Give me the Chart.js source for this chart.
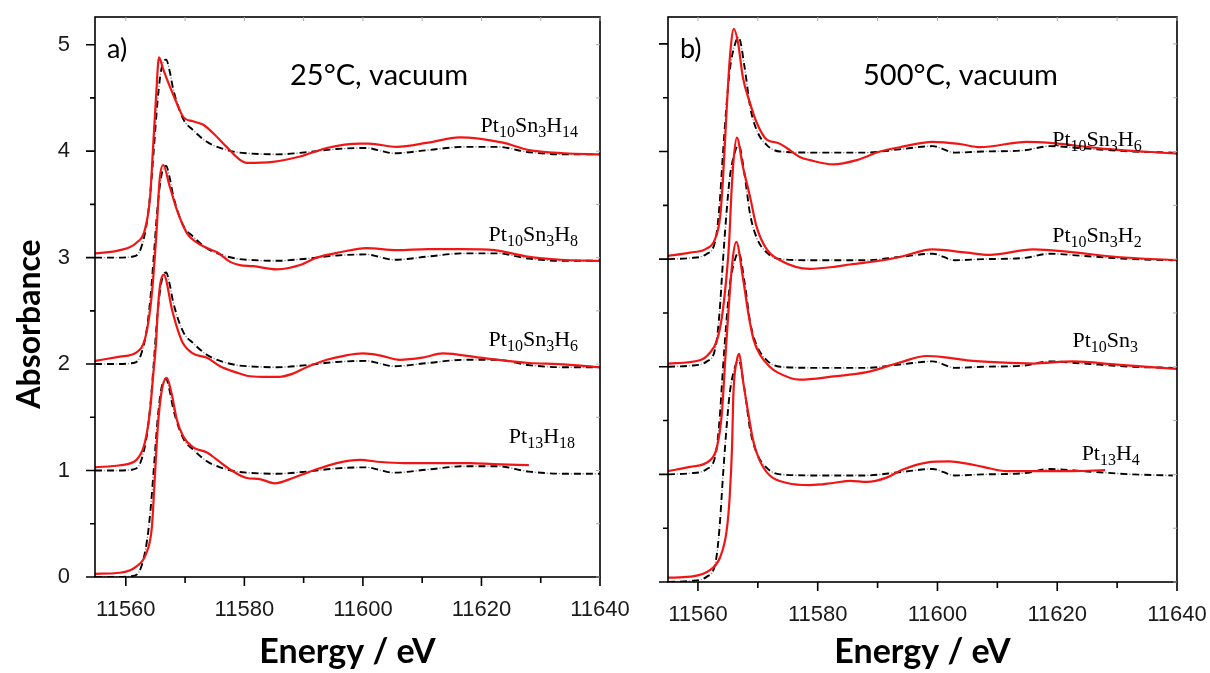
<!DOCTYPE html>
<html>
<head>
<meta charset="utf-8">
<script src="https://cdn.jsdelivr.net/npm/chart.js@4.4.0/dist/chart.umd.min.js"></script>
<style>
  html, body { margin: 0; padding: 0; background: #fff; }
  #wrap { position: relative; width: 1210px; height: 673px; overflow: hidden; }
  canvas { position: absolute; top: 0; }
  #panelA { left: 0; }
  #panelB { left: 640px; }
</style>
</head>
<body>
<div id="wrap">
  <canvas id="panelA" width="640" height="673"></canvas>
  <canvas id="panelB" width="570" height="673"></canvas>
</div>
<script>
// ---- axes / ticks ----
const xMajorTicks = [11560, 11580, 11600, 11620, 11640];
const xMinorTicks = [11570, 11590, 11610, 11630];
const yMajorTicks = [0, 1, 2, 3, 4, 5];
const yMinorTicks = [0.5, 1.5, 2.5, 3.5, 4.5];

// ---- panel a) 25°C, vacuum ----
// experimental spectrum (black dash-dot), drawn once per offset
const expA_E = [11554.8, 11558, 11561.2, 11562.5, 11563.6, 11564.2, 11564.7, 11565.4, 11566, 11566.8, 11567.4, 11568, 11569.7, 11571.3, 11573.6, 11575.9, 11578.7, 11580.4, 11585.5, 11590.5, 11595.6, 11600.6, 11602.5, 11605.2, 11611, 11617, 11622.7, 11628, 11634, 11640];
const expA_mu = [0.0, 0.0, 0.01, 0.08, 0.35, 0.65, 1.0, 1.5, 1.77, 1.86, 1.75, 1.58, 1.3, 1.2, 1.09, 1.03, 0.99, 0.98, 0.97, 0.99, 1.02, 1.03, 1.01, 0.98, 1.01, 1.04, 1.04, 0.99, 0.97, 0.97];
const offsetsA = [0, 1, 2, 3];

// calculated spectra (red), absolute values as plotted
const pt13h18_E = [11554.8, 11559, 11561.8, 11563.5, 11564.4, 11564.9, 11565.4, 11566, 11566.9, 11567.7, 11568.6, 11569.7, 11571.3, 11573.7, 11575.4, 11577.6, 11580.4, 11582.6, 11585.1, 11588.2, 11591.6, 11595.6, 11599.5, 11603, 11607, 11612, 11618, 11622, 11628];
const pt13h18_mu = [0.03, 0.04, 0.1, 0.23, 0.47, 0.94, 1.41, 1.73, 1.87, 1.73, 1.48, 1.32, 1.22, 1.17, 1.1, 1.01, 0.93, 0.92, 0.88, 0.93, 1.0, 1.07, 1.10, 1.08, 1.07, 1.07, 1.07, 1.06, 1.05];

const pt10sn3h6a_E = [11554.8, 11559, 11561.8, 11563.2, 11564.1, 11564.6, 11565.1, 11565.4, 11565.8, 11566.4, 11567.8, 11568.6, 11569.6, 11571.3, 11573.7, 11575.9, 11578.7, 11580.4, 11583, 11585.9, 11588.2, 11590.5, 11593.9, 11597, 11600, 11603, 11606.2, 11610, 11613.5, 11619.7, 11628, 11633, 11640];
const pt10sn3h6a_mu = [1.03, 1.05, 1.1, 1.26, 1.57, 1.88, 2.2, 2.51, 2.75, 2.84, 2.51, 2.35, 2.2, 2.1, 2.06, 1.98, 1.92, 1.89, 1.88, 1.88, 1.91, 1.97, 2.04, 2.08, 2.10, 2.08, 2.04, 2.06, 2.10, 2.06, 2.01, 2.0, 1.97];

const pt10sn3h8_E = [11554.8, 11559, 11561.8, 11563.2, 11564.1, 11564.6, 11565.2, 11565.7, 11566.3, 11567.4, 11568.6, 11570.3, 11572, 11573.7, 11575.4, 11577.6, 11579.2, 11581.5, 11585.5, 11589.4, 11592.2, 11596.1, 11600.6, 11605.7, 11611, 11616.6, 11622.2, 11627.8, 11633.4, 11640];
const pt10sn3h8_mu = [2.03, 2.07, 2.11, 2.23, 2.51, 2.79, 3.26, 3.73, 3.87, 3.67, 3.45, 3.23, 3.14, 3.09, 3.05, 2.96, 2.93, 2.92, 2.89, 2.93, 3.0, 3.05, 3.09, 3.07, 3.08, 3.08, 3.07, 3.01, 2.98, 2.97];

const pt10sn3h14_E = [11554.8, 11559, 11561.8, 11563.2, 11564.1, 11564.6, 11565.1, 11565.6, 11566.3, 11567.4, 11568.6, 11569.7, 11571.3, 11573, 11574.7, 11577, 11579.2, 11580.4, 11584.8, 11589.4, 11593.9, 11599.5, 11601, 11605.7, 11611, 11616.3, 11623.6, 11628, 11634, 11640];
const pt10sn3h14_mu = [3.04, 3.07, 3.14, 3.26, 3.57, 4.04, 4.51, 4.88, 4.77, 4.61, 4.45, 4.32, 4.28, 4.25, 4.17, 4.04, 3.92, 3.89, 3.9, 3.95, 4.03, 4.07, 4.07, 4.04, 4.08, 4.13, 4.08, 4.01, 3.98, 3.97];

const labelsA = ['Pt{10}Sn{3}H{14}', 'Pt{10}Sn{3}H{8}', 'Pt{10}Sn{3}H{6}', 'Pt{13}H{18}'];
const labelsA_E = [11636.3, 11636.3, 11636.3, 11635.8];
const labelsA_mu = [4.18, 3.16, 2.17, 1.26];

// ---- panel b) 500°C, vacuum ----
const expB_E = [11555, 11558.7, 11561.5, 11563.0, 11563.6, 11564.2, 11564.8, 11565.3, 11566.2, 11566.8, 11567.8, 11568.7, 11569.8, 11571.5, 11573.7, 11579.9, 11588, 11593.6, 11599.2, 11602.9, 11607.6, 11614.3, 11618.8, 11624.3, 11632.6, 11639.3];
const expB_mu = [0, 0.01, 0.05, 0.2, 0.5, 1.0, 1.45, 1.75, 2.0, 2.06, 1.78, 1.42, 1.2, 1.06, 1.0, 0.99, 0.99, 1.02, 1.05, 0.99, 1.0, 1.01, 1.05, 1.03, 1.0, 0.99];
const offsetsB = [0, 1, 2, 3];

const pt13h4_E = [11555, 11558.7, 11562, 11563.7, 11564.8, 11565.3, 11565.7, 11565.9, 11566.5, 11566.9, 11567.5, 11568.4, 11569.2, 11570.3, 11572, 11574.9, 11578.7, 11582.6, 11585.4, 11588.2, 11591.5, 11594, 11598.2, 11602, 11604.9, 11607.6, 11611.6, 11617.1, 11622.6, 11628];
const pt13h4_mu = [0.04, 0.05, 0.11, 0.23, 0.48, 0.79, 1.26, 1.72, 2.06, 2.12, 1.88, 1.57, 1.32, 1.13, 0.99, 0.92, 0.9, 0.92, 0.94, 0.93, 0.97, 1.04, 1.11, 1.12, 1.1, 1.07, 1.03, 1.03, 1.03, 1.04];

const pt10sn3_E = [11555, 11558.7, 11562, 11563.2, 11564, 11564.6, 11565.2, 11565.8, 11566.4, 11567.5, 11568.4, 11569.3, 11570.5, 11572, 11573.2, 11577, 11582.6, 11588.2, 11593.7, 11598.2, 11600.9, 11604.9, 11610.4, 11616, 11622.6, 11630, 11640];
const pt10sn3_mu = [1.03, 1.07, 1.13, 1.26, 1.57, 2.1, 2.6, 3.0, 3.16, 2.83, 2.5, 2.25, 2.1, 2.0, 1.95, 1.88, 1.91, 1.95, 2.04, 2.1, 2.09, 2.06, 2.04, 2.03, 2.05, 2.02, 1.98];

const pt10sn3h2_E = [11555, 11560.3, 11562, 11563.2, 11564, 11564.7, 11565.2, 11565.6, 11566, 11566.5, 11567.5, 11568.7, 11569.8, 11571.5, 11573.7, 11578.7, 11583, 11585.4, 11590.9, 11593.7, 11599.2, 11604.9, 11608.7, 11616, 11621.6, 11630, 11640];
const pt10sn3h2_mu = [2.03, 2.06, 2.13, 2.25, 2.46, 2.8, 3.15, 3.62, 3.95, 4.13, 3.86, 3.58, 3.3, 3.09, 2.99, 2.91, 2.93, 2.95, 2.99, 3.02, 3.09, 3.06, 3.04, 3.09, 3.07, 3.02, 2.99];

const pt10sn3h6b_E = [11555, 11558.7, 11561.5, 11562.8, 11563.7, 11564.2, 11564.8, 11565.3, 11566, 11566.7, 11567.5, 11568.7, 11569.8, 11571.5, 11573.4, 11574.9, 11577, 11578.7, 11582.6, 11586.5, 11590.4, 11593.7, 11599.2, 11603.7, 11607.1, 11614.9, 11618.8, 11627.1, 11640];
const pt10sn3h6b_mu = [3.03, 3.06, 3.1, 3.18, 3.39, 3.76, 4.39, 4.85, 5.14, 5.01, 4.69, 4.45, 4.27, 4.11, 4.08, 4.03, 3.95, 3.92, 3.88, 3.92, 4.0, 4.04, 4.09, 4.07, 4.04, 4.09, 4.08, 4.03, 3.98];

const labelsB = ['Pt{10}Sn{3}H{6}', 'Pt{10}Sn{3}H{2}', 'Pt{10}Sn{3}', 'Pt{13}H{4}'];
const labelsB_E = [11634.1, 11634.1, 11633.5, 11633.8];
const labelsB_mu = [4.05, 3.16, 2.18, 1.13];

const RED = 'rgb(240, 22, 22)';

function curve(xs, ys, shift) {
    return xs.map((x, i) => ({ x: x, y: ys[i] + shift }));
}

function buildDatasets(reds, expX, expY, offsets) {
    const sets = [];
    // red first so it is painted on top
    reds.forEach(r => {
        sets.push({ data: curve(r[0], r[1], 0), borderColor: RED, borderWidth: 2.2 });
    });
    offsets.forEach(o => {
        sets.push({ data: curve(expX, expY, o), borderColor: '#000', borderWidth: 1.9, borderDash: [7, 5] });
        sets.push({ data: curve(expX, expY, o), borderColor: '#9a9a9a', borderWidth: 1.3, borderDash: [1.5, 10.5], borderDashOffset: 3.25 });
    });
    return sets;
}

// draws "Pt{10}Sn{3}" with subscripts, right aligned at (xr, yb)
function drawFormula(ctx, text, xr, yb) {
    const parts = [];
    text.replace(/([^{}]+)|\{([^}]*)\}/g, (m, main, sub) => {
        parts.push(main ? { t: main, sub: false } : { t: sub, sub: true });
    });
    const mainFont = '22px "Liberation Serif", "Times New Roman", serif';
    const subFont = '16px "Liberation Serif", "Times New Roman", serif';
    let w = 0;
    parts.forEach(p => { ctx.font = p.sub ? subFont : mainFont; w += ctx.measureText(p.t).width; });
    let x = xr - w;
    ctx.textAlign = 'left';
    parts.forEach(p => {
        ctx.font = p.sub ? subFont : mainFont;
        ctx.fillText(p.t, x, p.sub ? yb + 5 : yb);
        x += ctx.measureText(p.t).width;
    });
}

const frameAndText = {
    id: 'frameAndText',
    afterDraw(chart, args, o) {
        const { ctx, chartArea: a, scales: { x, y } } = chart;
        ctx.save();
        // box frame
        ctx.strokeStyle = '#000';
        ctx.lineWidth = 1.6;
        ctx.strokeRect(a.left, a.top, a.right - a.left, a.bottom - a.top);

        // outward ticks (major long, minor short)
        ctx.beginPath();
        xMajorTicks.forEach(v => { const p = x.getPixelForValue(v); ctx.moveTo(p, a.bottom); ctx.lineTo(p, a.bottom + 9); });
        xMinorTicks.forEach(v => { const p = x.getPixelForValue(v); ctx.moveTo(p, a.bottom); ctx.lineTo(p, a.bottom + 6); });
        yMajorTicks.forEach(v => { const p = y.getPixelForValue(v); ctx.moveTo(a.left, p); ctx.lineTo(a.left - 9, p); });
        yMinorTicks.forEach(v => { const p = y.getPixelForValue(v); ctx.moveTo(a.left, p); ctx.lineTo(a.left - 5, p); });
        ctx.stroke();

        // faint mirrored ticks on top and right
        ctx.strokeStyle = '#aaa';
        ctx.lineWidth = 1;
        ctx.beginPath();
        xMajorTicks.concat(xMinorTicks).forEach(v => { const p = x.getPixelForValue(v); ctx.moveTo(p, a.top); ctx.lineTo(p, a.top + 4); });
        yMajorTicks.concat(yMinorTicks).forEach(v => { const p = y.getPixelForValue(v); ctx.moveTo(a.right, p); ctx.lineTo(a.right - 4, p); });
        ctx.stroke();

        // panel tag and condition
        ctx.fillStyle = '#000';
        ctx.textBaseline = 'alphabetic';
        ctx.textAlign = 'left';
        ctx.font = '27px Lato, "Open Sans", sans-serif';
        ctx.fillText(o.tag, a.left + 12, a.top + 41);
        ctx.font = '29px Lato, "Open Sans", sans-serif';
        ctx.fillText(o.condition, a.left + 195, a.top + 68);

        // axis titles
        ctx.font = 'bold 34px Lato, "Open Sans", sans-serif';
        ctx.textAlign = 'center';
        ctx.fillText('Energy / eV', (a.left + a.right) / 2, 663);
        if (o.yTitle) {
            ctx.save();
            ctx.translate(40, 324);
            ctx.rotate(-Math.PI / 2);
            ctx.font = 'bold 32px Lato, "Open Sans", sans-serif';
            ctx.fillText(o.yTitle, 0, 0);
            ctx.restore();
        }

        // sample labels
        o.labels.forEach((t, i) => {
            drawFormula(ctx, t, x.getPixelForValue(o.labelE[i]), y.getPixelForValue(o.labelMu[i]));
        });
        ctx.restore();
    }
};

// keep tick labels from pushing the plot area around
function noPadding(s) {
    s.paddingTop = 0;
    s.paddingBottom = 0;
    s.paddingLeft = 0;
    s.paddingRight = 0;
}

function makePanel(id, cfg) {
    const ctx = document.getElementById(id).getContext('2d');
    return new Chart(ctx, {
        type: 'line',
        data: { datasets: cfg.datasets },
        options: {
            responsive: false,
            animation: false,
            devicePixelRatio: 1,
            layout: { padding: { left: 0, top: 17, right: cfg.padRight, bottom: 0 } },
            elements: {
                point: { radius: 0 },
                line: { fill: false, cubicInterpolationMode: 'monotone', borderCapStyle: 'butt' }
            },
            plugins: {
                legend: { display: false },
                tooltip: { enabled: false },
                frameAndText: cfg.text
            },
            scales: {
                x: {
                    type: 'linear',
                    min: cfg.xMin,
                    max: 11640,
                    grid: { display: false },
                    border: { display: false },
                    ticks: {
                        color: '#1a1a1a',
                        padding: 12,
                        maxRotation: 0,
                        autoSkip: false,
                        font: { family: '"Liberation Sans", Arial, sans-serif', size: 22 },
                        callback: v => String(v)
                    },
                    afterBuildTicks: s => { s.ticks = xMajorTicks.map(v => ({ value: v })); },
                    afterFit: s => { s.height = cfg.xAxisHeight; noPadding(s); }
                },
                y: {
                    min: 0,
                    max: cfg.yMax,
                    grid: { display: false },
                    border: { display: false },
                    ticks: {
                        display: cfg.yLabels,
                        color: '#1a1a1a',
                        padding: 17,
                        font: { family: '"Liberation Sans", Arial, sans-serif', size: 22 },
                        callback: v => String(v)
                    },
                    afterBuildTicks: s => { s.ticks = yMajorTicks.map(v => ({ value: v })); },
                    afterFit: s => { s.width = cfg.yAxisWidth; noPadding(s); }
                }
            }
        },
        plugins: [frameAndText]
    });
}

document.addEventListener('DOMContentLoaded', () => {
    makePanel('panelA', {
        datasets: buildDatasets([
            [pt13h18_E, pt13h18_mu],
            [pt10sn3h6a_E, pt10sn3h6a_mu],
            [pt10sn3h8_E, pt10sn3h8_mu],
            [pt10sn3h14_E, pt10sn3h14_mu]
        ], expA_E, expA_mu, offsetsA),
        xMin: 11554.8,
        yMax: 5.26,
        padRight: 40,
        xAxisHeight: 96,
        yAxisWidth: 95,
        yLabels: true,
        text: {
            tag: 'a)', condition: '25°C, vacuum', yTitle: 'Absorbance',
            labels: labelsA, labelE: labelsA_E, labelMu: labelsA_mu
        }
    });

    makePanel('panelB', {
        datasets: buildDatasets([
            [pt13h4_E, pt13h4_mu],
            [pt10sn3_E, pt10sn3_mu],
            [pt10sn3h2_E, pt10sn3h2_mu],
            [pt10sn3h6b_E, pt10sn3h6b_mu]
        ], expB_E, expB_mu, offsetsB),
        xMin: 11555,
        yMax: 5.25,
        padRight: 33,
        xAxisHeight: 91,
        yAxisWidth: 28,
        yLabels: false,
        text: {
            tag: 'b)', condition: '500°C, vacuum', yTitle: null,
            labels: labelsB, labelE: labelsB_E, labelMu: labelsB_mu
        }
    });
});
</script>
</body>
</html>
